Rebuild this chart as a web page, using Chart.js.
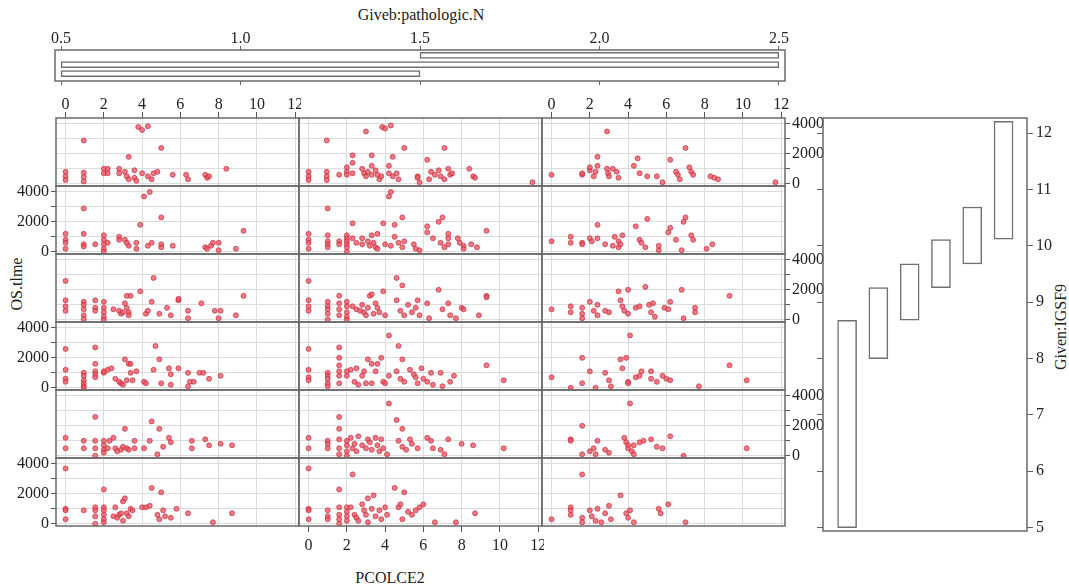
<!DOCTYPE html>
<html>
<head>
<meta charset="utf-8">
<script src="https://cdn.jsdelivr.net/npm/chart.js@4.4.1/dist/chart.umd.min.js"></script>
<style>
  body { margin: 0; background: #fff; }
  #fig { position: relative; width: 1069px; height: 587px; overflow: hidden;
         font-family: 'Liberation Serif', 'DejaVu Serif', serif; color: #222; }
  #fig canvas { position: absolute; }
  .lbl { position: absolute; font-size: 16px; white-space: nowrap; transform: translate(-50%, -50%); }
  .rot { transform: translate(-50%, -50%) rotate(-90deg); }
</style>
</head>
<body>
<div id="fig">
  <div class="lbl" style="left:421px;top:15px">Giveb:pathologic.N</div>
  <div class="lbl rot" style="left:17px;top:284px">OS.tlme</div>
  <div class="lbl" style="left:390px;top:578px">PCOLCE2</div>
  <div class="lbl rot" style="left:1061px;top:327px">Given:IGSF9</div>
</div>
<script>
// PCOLCE2 (x) vs OS.time (y), one list per panel.
// Rows go top -> bottom (highest IGSF9 interval first), columns left -> right.
const r1c1 = [[0,800],[0,500],[0,250],[0.95,2900],[0.95,750],[0.95,450],[0.95,150],[2,1000],[2,700],[2.2,700],[2.2,1000],[2.8,1000],[2.8,700],[3.1,800],[3.2,500],[3.3,300],[3.3,1800],[3.6,900],[3.6,400],[3.7,200],[3.8,3800],[4.0,3600],[4.3,3850],[4.0,700],[4.3,500],[4.5,300],[4.6,700],[4.8,800],[5.0,2400],[5.6,600],[6.3,600],[6.4,300],[7.3,600],[7.4,400],[7.5,500],[8.4,1000]];
const r1c2 = [[0,800],[0,500],[0,250],[0.95,2900],[0.95,800],[0.95,500],[0.95,250],[1.6,600],[2,1100],[2,800],[2,600],[2.3,1900],[2.3,1400],[2.3,700],[2.8,1000],[2.9,700],[3.0,500],[3.1,800],[3.0,3500],[3.3,1900],[3.3,1200],[3.3,600],[3.5,900],[3.6,600],[3.7,300],[3.8,500],[3.85,3800],[4.0,3700],[4.3,3900],[4.2,1200],[4.2,700],[4.4,500],[4.6,700],[4.7,300],[4.4,1800],[5.0,2400],[5.7,500],[5.7,400],[5.8,100],[6.2,1600],[6.3,300],[6.4,800],[6.6,600],[6.8,900],[6.9,500],[7.1,300],[7.1,2400],[7.3,1000],[7.4,600],[7.5,700],[8.4,1000],[8.6,500],[8.7,400],[11.7,100]];
const r1c3 = [[0,600],[1.6,600],[1.6,700],[2,900],[2,1100],[2.2,500],[2.3,800],[2.4,1200],[2.4,1800],[2.9,3500],[2.9,1000],[2.95,700],[3.0,500],[3.2,1000],[3.4,800],[3.5,400],[4.3,1200],[4.5,1700],[4.6,700],[5.0,500],[5.5,500],[5.8,100],[6.2,1600],[6.5,800],[6.6,600],[6.7,300],[7.0,2400],[7.2,1100],[7.3,800],[7.4,600],[8.3,500],[8.5,400],[8.7,300],[11.7,100]];

const r2c1 = [[0,1200],[0,800],[0,600],[0,200],[0.95,2900],[0.95,1200],[0.95,500],[0.95,350],[1.55,500],[2,1100],[2,800],[2,500],[2,200],[2,0],[2.2,600],[2.8,1000],[2.8,800],[3.1,800],[3.2,600],[3.3,400],[3.7,200],[3.7,600],[3.9,1800],[4.1,3700],[4.4,4000],[4.3,400],[4.5,600],[5.0,2300],[5.0,500],[5.0,300],[5.6,400],[7.3,300],[7.4,200],[7.6,400],[7.7,600],[8.0,600],[8.0,100],[8.9,200],[9.3,1400]];
const r2c2 = [[0,1200],[0,800],[0,600],[0,200],[1,2900],[1,1100],[1,700],[1,500],[1,300],[1.6,700],[1.6,500],[2,1100],[2,900],[2,700],[2,500],[2,300],[2,0],[2.3,1900],[2.3,900],[2.5,600],[2.8,900],[2.8,500],[3.1,700],[3.2,400],[3.3,1100],[3.4,600],[3.5,300],[3.6,200],[3.6,1200],[3.9,1900],[4.2,3700],[4.3,4000],[4.0,500],[4.3,400],[4.5,1000],[4.7,600],[4.5,1800],[4.9,2300],[4.9,300],[5.0,700],[5.5,500],[5.6,200],[5.8,100],[6.2,1700],[6.2,1300],[6.5,900],[6.8,2000],[7.0,2300],[6.9,600],[7.1,300],[7.3,1200],[7.3,900],[7.3,500],[7.8,900],[7.9,600],[8.1,400],[8.1,200],[8.5,500],[8.8,300],[9.3,1400]];
const r2c3 = [[0,700],[1,1000],[1,600],[1.6,600],[1.6,500],[2,900],[2.1,700],[2.4,900],[2.4,1800],[2.8,500],[3.2,400],[3.3,1000],[3.5,700],[3.5,300],[3.7,1100],[3.6,500],[4.4,1700],[4.6,800],[4.7,600],[5.0,2200],[4.9,300],[5.6,100],[5.6,400],[6.1,1300],[6.2,1600],[6.5,800],[6.8,100],[6.9,2000],[7.0,2300],[7.3,1100],[7.4,800],[8.1,200],[8.4,500]];

const r3c1 = [[0,2600],[0,1300],[0,900],[0,600],[0.95,1200],[0.95,1000],[0.95,700],[0.95,300],[0.95,50],[1.55,1300],[1.55,800],[1.55,600],[2,1200],[2,800],[2,500],[2,200],[2,0],[2.5,700],[2.8,600],[2.9,400],[3.0,500],[3.1,1100],[3.2,800],[3.3,500],[3.3,300],[3.2,1600],[3.4,1600],[3.9,1900],[4.2,400],[4.3,600],[4.5,1200],[4.6,2800],[4.9,400],[5.3,800],[5.5,300],[5.9,1300],[5.9,1400],[6.4,600],[6.4,100],[7.1,1100],[7.8,600],[8.1,600],[8.0,100],[8.9,300],[9.3,1600]];
const r3c2 = [[0,2600],[0,1300],[0,900],[0,600],[1,1200],[1,900],[1,700],[1,400],[1,0],[1.6,1600],[1.6,1100],[1.6,700],[1.6,300],[2,1200],[2,900],[2,500],[2,200],[2,0],[2.3,900],[2.5,700],[2.7,600],[2.8,1000],[2.9,500],[3.0,300],[3.1,800],[3.2,1600],[3.3,1700],[3.4,400],[3.5,1100],[3.6,800],[3.7,500],[3.9,1900],[4.0,300],[4.6,2800],[4.9,2300],[4.6,1300],[4.8,600],[5.0,300],[5.2,1000],[5.4,500],[5.6,800],[5.7,1300],[5.8,300],[6.2,1100],[6.3,100],[6.8,2000],[7.0,700],[7.3,1100],[7.4,300],[7.7,100],[8.0,800],[8.1,700],[8.9,300],[9.3,1600],[9.3,1500]];
const r3c3 = [[0,700],[1,900],[1,500],[1.6,800],[1.6,400],[1.6,100],[2,1200],[2.2,600],[2.4,1000],[2.4,300],[2.8,600],[3.0,500],[3.5,1900],[3.6,1300],[3.7,900],[3.8,600],[4.0,2000],[4.0,400],[4.4,800],[4.6,900],[4.9,2200],[5.1,1000],[5.2,500],[5.3,1100],[5.4,200],[5.9,800],[6.1,700],[6.2,1200],[6.8,2000],[6.9,100],[7.5,800],[7.5,500],[9.3,1600]];

const r4c1 = [[0,2600],[0,1200],[0,600],[0,400],[0.95,1000],[0.95,800],[0.95,500],[0.95,300],[0.95,100],[0.95,0],[1.55,2700],[1.55,1600],[1.55,1100],[1.55,900],[1.55,700],[2,1000],[2,1100],[2.2,1200],[2.4,1300],[2.6,600],[2.8,400],[2.9,300],[3.0,200],[3.1,1900],[3.2,500],[3.3,1600],[3.4,1600],[3.4,1000],[3.5,500],[3.7,1100],[4.1,400],[4.2,300],[4.6,1200],[4.7,2800],[4.9,1900],[5.0,300],[5.4,1300],[5.5,900],[5.5,200],[5.9,1300],[6.4,1000],[6.4,100],[6.5,400],[6.7,400],[7.0,1000],[7.2,1000],[7.5,600],[8.1,800]];
const r4c2 = [[0,2600],[0,1200],[0,700],[0,500],[1,1000],[1,800],[1,600],[1,300],[1,100],[1.6,2700],[1.6,2000],[1.6,1500],[1.6,1100],[1.6,800],[1.6,300],[2,1100],[2,800],[2.2,1200],[2.4,400],[2.5,1300],[2.6,200],[2.8,800],[2.9,1100],[3.0,300],[3.1,1900],[3.3,1600],[3.3,300],[3.5,1100],[3.6,1600],[3.8,2000],[3.9,400],[4.0,300],[4.2,800],[4.2,3500],[4.7,2800],[4.9,1900],[4.6,1100],[4.8,600],[5.0,400],[5.3,1200],[5.5,900],[5.6,700],[5.7,300],[5.9,1300],[6.0,600],[6.2,400],[6.4,1000],[6.5,200],[6.9,1000],[7.0,100],[7.4,400],[7.6,800],[9.3,1500],[10.2,500]];
const r4c3 = [[0,700],[1,0],[1.6,2000],[1.6,300],[2,1100],[2.3,0],[2.8,1000],[3.0,500],[3.1,100],[3.6,1900],[3.7,1300],[3.9,2000],[4.0,400],[4.0,300],[4.1,3500],[4.4,700],[4.6,800],[4.7,1100],[5.2,1100],[5.2,600],[5.5,400],[5.8,800],[6.0,600],[6.2,500],[7.7,100],[9.3,1500],[10.2,500]];

const r5c1 = [[0,1200],[0,500],[0.95,1000],[0.95,500],[1.55,2600],[1.55,1000],[1.55,500],[1.55,0],[2,1000],[2,700],[2,400],[2,200],[2.2,500],[2.3,1000],[2.5,1200],[2.6,500],[2.7,300],[2.9,400],[3.0,600],[3.1,1800],[3.2,500],[3.3,400],[3.6,1000],[3.6,500],[4.1,500],[4.4,1000],[4.5,2300],[4.8,100],[4.9,1800],[5.1,600],[5.4,1200],[5.5,900],[6.6,1000],[6.6,500],[7.3,1100],[7.5,700],[8.1,800],[8.7,700]];
const r5c2 = [[0,1200],[0,500],[1,1000],[1,800],[1,500],[1.6,2600],[1.6,1800],[1.6,1100],[1.6,500],[1.6,100],[2,1000],[2,700],[2,300],[2,0],[2.2,1200],[2.3,500],[2.4,800],[2.5,300],[2.6,1300],[2.8,700],[3.0,500],[3.1,1100],[3.2,900],[3.3,400],[3.5,1200],[3.6,700],[3.7,300],[3.8,1100],[3.9,500],[4.1,100],[4.2,3500],[4.6,2400],[4.9,1800],[4.7,1000],[4.9,600],[5.1,400],[5.3,1100],[5.4,800],[5.7,500],[6.2,1200],[6.4,1000],[6.5,500],[6.9,400],[7.1,100],[7.3,1100],[8.0,800],[8.6,700],[10.2,500]];
const r5c3 = [[1,1100],[1,1000],[1.6,2000],[1.6,100],[2,300],[2.2,500],[2.3,100],[2.4,1000],[2.8,400],[3.0,200],[3.8,1200],[3.9,900],[4.0,700],[4.0,500],[4.1,3500],[4.2,300],[4.3,700],[4.3,100],[4.6,900],[4.8,1000],[5.2,1100],[5.5,600],[5.8,500],[6.2,1300],[6.9,0],[10.2,500]];

const r6c1 = [[0,3700],[0,1000],[0,900],[0,300],[0.95,900],[1.55,1100],[1.55,900],[1.55,500],[1.55,0],[2,2300],[2,1100],[2,900],[2,600],[2,300],[2,100],[2.5,500],[2.6,1100],[2.7,400],[2.8,600],[2.9,700],[3.0,1500],[3.0,200],[3.1,1700],[3.2,700],[3.3,500],[3.4,1000],[3.5,900],[4.0,1100],[4.2,1100],[4.4,1200],[4.5,2400],[4.8,600],[4.9,300],[5.0,2100],[5.1,900],[5.2,500],[5.5,400],[5.8,1000],[6.4,700],[7.7,100],[8.7,700]];
const r6c2 = [[0,3700],[0,1000],[0,900],[0,300],[1,900],[1,500],[1,300],[1.6,2300],[1.6,1100],[1.6,600],[1.6,300],[1.6,0],[2,1100],[2,800],[2,500],[2,200],[2.2,1100],[2.3,3300],[2.4,600],[2.5,400],[2.6,200],[2.8,1300],[2.9,900],[3.0,600],[3.1,1700],[3.1,100],[3.3,1000],[3.4,1900],[3.5,500],[3.7,900],[3.8,300],[4.0,1100],[4.1,600],[4.5,2400],[4.7,1100],[4.8,1300],[4.9,300],[5.0,2100],[5.2,800],[5.4,600],[5.6,900],[5.8,1100],[6.0,1300],[6.6,100],[7.7,100],[8.7,700]];
const r6c3 = [[0,300],[1,1100],[1,900],[1,600],[1.6,3300],[1.6,400],[1.6,100],[2,900],[2.1,500],[2.3,200],[2.4,1000],[2.6,100],[2.8,700],[3.0,1200],[3.1,300],[3.6,1900],[3.9,700],[4.0,400],[4.1,900],[4.3,100],[5.6,1000],[5.7,700],[6.1,1300],[7.0,100]];

const panels = [
    [r1c1, r1c2, r1c3],
    [r2c1, r2c2, r2c3],
    [r3c1, r3c2, r3c3],
    [r4c1, r4c2, r4c3],
    [r5c1, r5c2, r5c3],
    [r6c1, r6c2, r6c3]
];

// conditioning intervals (lower / upper bounds)
const nLow = [0.5, 0.5, 1.5];
const nHigh = [1.5, 2.5, 2.5];
const igsf9Low = [5.0, 8.0, 8.68, 9.26, 9.68, 10.12];
const igsf9High = [8.68, 9.26, 9.68, 10.11, 10.69, 12.21];

// tick values
const pcolceTicks = [0, 2, 4, 6, 8, 10, 12];
const osTimeTicks = [0, 1000, 2000, 3000, 4000];
const osTimeLabels = [0, 2000, 4000];
const nTicks = [0.5, 1.0, 1.5, 2.0, 2.5];
const igsf9Ticks = [5, 6, 7, 8, 9, 10, 11, 12];

// layout
const COL_LEFT = [56, 299, 542];
const ROW_TOP = [118, 186, 254, 322, 390, 458];
const PANEL_W = 243;
const PANEL_H = 68;
const SERIF = "'Liberation Serif', 'DejaVu Serif', serif";
const TICK_FONT = { family: SERIF, size: 16 };

const fig = document.getElementById('fig');

function addCanvas(left, top, w, h) {
    const c = document.createElement('canvas');
    c.width = w;
    c.height = h;
    c.style.left = left + 'px';
    c.style.top = top + 'px';
    c.style.width = w + 'px';
    c.style.height = h + 'px';
    fig.appendChild(c);
    return c;
}

// force an axis to an exact size so chart areas line up across canvases
function fixSize(prop, size) {
    return s => {
        s[prop] = size;
        s.paddingLeft = s.paddingRight = s.paddingTop = s.paddingBottom = 0;
    };
}

// use a fixed list of tick values instead of the auto generated ones
function fixTicks(values) {
    return s => { s.ticks = values.map(v => ({ value: v })); };
}

const framePlugin = {
    id: 'frame',
    afterDraw(chart) {
        const a = chart.chartArea;
        const ctx = chart.ctx;
        ctx.save();
        ctx.strokeStyle = '#6a6a6a';
        ctx.lineWidth = 1.5;
        ctx.strokeRect(a.left, a.top, a.right - a.left, a.bottom - a.top);
        ctx.restore();
    }
};

const baseOptions = {
    responsive: false,
    animation: false,
    events: [],
    plugins: { legend: { display: false }, tooltip: { enabled: false } }
};

function drawPanel(r, c) {
    const topX = r === 0 && c !== 1;
    const bottomX = r === 5 && c === 1;
    const leftY = c === 0 && r % 2 === 1;
    const rightY = c === 2 && r % 2 === 0;
    const XH = 30, LW = 56, RW = 42, M = 2;
    const m = {
        t: topX ? XH : M, b: bottomX ? XH : M,
        l: leftY ? LW : M, r: rightY ? RW : M
    };
    const showX = topX || bottomX;
    const showY = leftY || rightY;

    const canvas = addCanvas(COL_LEFT[c] - m.l, ROW_TOP[r] - m.t,
        PANEL_W + m.l + m.r, PANEL_H + m.t + m.b);

    new Chart(canvas, {
        type: 'scatter',
        data: {
            datasets: [{
                data: panels[r][c].map(p => ({ x: p[0], y: p[1] })),
                pointRadius: 2.5,
                pointBackgroundColor: 'rgba(236, 84, 98, 0.78)',
                pointBorderColor: 'rgba(196, 40, 60, 0.85)',
                pointBorderWidth: 0.8
            }]
        },
        options: {
            ...baseOptions,
            layout: {
                autoPadding: false,
                padding: {
                    top: topX ? 0 : M, bottom: bottomX ? 0 : M,
                    left: leftY ? 0 : M, right: rightY ? 0 : M
                }
            },
            scales: {
                x: {
                    type: 'linear',
                    position: bottomX ? 'bottom' : 'top',
                    min: -0.5, max: 12.2,
                    afterBuildTicks: fixTicks(pcolceTicks),
                    afterFit: fixSize('height', showX ? XH : 0),
                    border: { display: false },
                    grid: { color: '#dcdcdc', drawTicks: showX, tickLength: 6, tickColor: '#555' },
                    ticks: { display: showX, autoSkip: false, padding: bottomX ? 4 : -2,
                             color: '#222', font: TICK_FONT, maxRotation: 0 }
                },
                y: {
                    type: 'linear',
                    position: rightY ? 'right' : 'left',
                    min: -150, max: 4400,
                    afterBuildTicks: fixTicks(osTimeTicks),
                    afterFit: fixSize('width', showY ? (leftY ? LW : RW) : 0),
                    border: { display: false },
                    grid: { color: '#dcdcdc', drawTicks: showY, tickLength: 5, tickColor: '#555' },
                    ticks: { display: showY, autoSkip: false, padding: 2, color: '#222', font: TICK_FONT,
                             callback: v => (osTimeLabels.includes(v) ? String(v) : '') }
                }
            }
        },
        plugins: [framePlugin]
    });
}

function drawNPanel() {
    const canvas = addCanvas(40, 20, 760, 70);
    new Chart(canvas, {
        type: 'bar',
        data: {
            datasets: [{
                data: nLow.map((lo, i) => ({ y: i + 1, x: [lo, nHigh[i]] })),
                backgroundColor: '#fff',
                borderColor: '#707070',
                borderWidth: 1.5,
                borderSkipped: false,
                barThickness: 6
            }]
        },
        options: {
            ...baseOptions,
            indexAxis: 'y',
            layout: { autoPadding: false, padding: { left: 15, right: 15, top: 0, bottom: 4 } },
            scales: {
                x: {
                    type: 'linear', position: 'top', min: 0.483, max: 2.517,
                    afterBuildTicks: fixTicks(nTicks),
                    afterFit: fixSize('height', 30),
                    border: { display: false },
                    grid: { drawOnChartArea: false, tickLength: 4, color: '#666' },
                    ticks: { autoSkip: false, padding: -2, color: '#222',
                             font: TICK_FONT, maxRotation: 0, callback: v => v.toFixed(1) }
                },
                x2: {
                    type: 'linear', position: 'bottom', min: 0.483, max: 2.517,
                    afterBuildTicks: fixTicks(nTicks),
                    afterFit: fixSize('height', 5),
                    border: { display: false },
                    grid: { drawOnChartArea: false, tickLength: 4, color: '#666' },
                    ticks: { display: false }
                },
                y: {
                    type: 'linear', min: 0.19, max: 3.6, offset: false,
                    afterFit: fixSize('width', 0),
                    border: { display: false },
                    grid: { display: false },
                    ticks: { display: false }
                }
            }
        },
        plugins: [framePlugin]
    });
}

function drawIgsf9Panel() {
    const canvas = addCanvas(817, 110, 250, 431);
    new Chart(canvas, {
        type: 'bar',
        data: {
            datasets: [{
                data: igsf9Low.map((lo, i) => ({ x: i + 1, y: [lo, igsf9High[i]] })),
                backgroundColor: '#fff',
                borderColor: '#707070',
                borderWidth: 1.5,
                borderSkipped: false,
                barThickness: 19
            }]
        },
        options: {
            ...baseOptions,
            layout: { autoPadding: false, padding: { top: 8, bottom: 10, left: 0, right: 0 } },
            scales: {
                x: {
                    type: 'linear', min: 0.23, max: 6.75, offset: false,
                    afterFit: fixSize('height', 0),
                    border: { display: false },
                    grid: { display: false },
                    ticks: { display: false }
                },
                y: {
                    type: 'linear', position: 'left', min: 4.94, max: 12.27,
                    afterBuildTicks: fixTicks(igsf9Ticks),
                    afterFit: fixSize('width', 6),
                    border: { display: false },
                    grid: { drawOnChartArea: false, tickLength: 6, color: '#666' },
                    ticks: { display: false }
                },
                y2: {
                    type: 'linear', position: 'right', min: 4.94, max: 12.27,
                    afterBuildTicks: fixTicks(igsf9Ticks),
                    afterFit: fixSize('width', 40),
                    border: { display: false },
                    grid: { drawOnChartArea: false, tickLength: 6, color: '#666' },
                    ticks: { autoSkip: false, padding: 3, color: '#222', font: TICK_FONT }
                }
            }
        },
        plugins: [framePlugin]
    });
}

drawNPanel();
for (let r = 0; r < panels.length; r++) {
    for (let c = 0; c < 3; c++) drawPanel(r, c);
}
drawIgsf9Panel();
</script>
</body>
</html>
